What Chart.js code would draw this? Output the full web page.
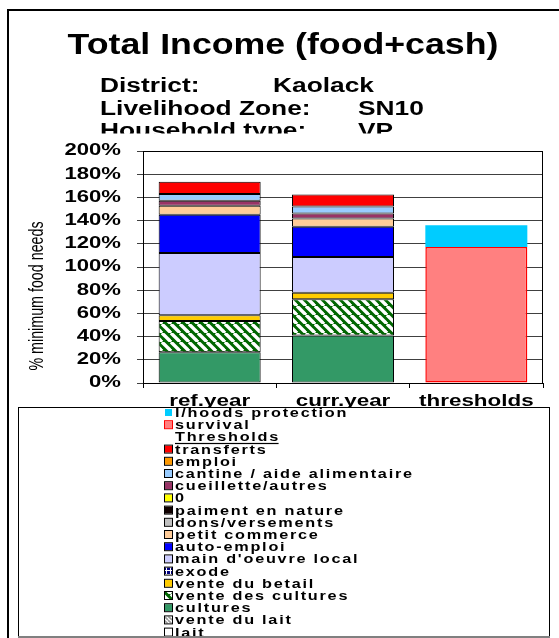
<!DOCTYPE html>
<html>
<head>
<meta charset="utf-8">
<script src="https://cdn.jsdelivr.net/npm/chart.js@4"></script>
<style>
    html, body { margin: 0; padding: 0; background: #fff; }
    canvas { display: block; }
</style>
</head>
<body>
<canvas id="incomeChart" width="559" height="638"></canvas>
<script>
// values in % of minimum food needs
const categories = ['ref.year', 'curr.year', 'thresholds'];
const lait = [0, 0, 0];
const venteDuLait = [0, 0, 0];
const cultures = [26.5, 40.9, 0];
const venteDesCultures = [27.0, 31.4, 0];
const venteDuBetail = [4.9, 5.5, 0];
const exode = [0, 0, 0];
const mainOeuvreLocal = [53.6, 30.8, 0];
const autoEmploi = [33.1, 26.0, 0];
const petitCommerce = [7.8, 7.2, 0];
const donsVersements = [0, 0, 0];
const paimentEnNature = [0, 0, 0];
const zeroSeries = [0, 0, 0];
const cueillette = [4.3, 4.3, 0];
const cantine = [5.8, 6.0, 0];
const emploi = [0, 0, 0];
const transferts = [10.4, 10.4, 0];
const survival = [0, 0, 117.2];
const lhoodsProtection = [0, 0, 18.7];

const yMax = 200;
const yStep = 20;
const infoLabels = ['District:', 'Livelihood Zone:', 'Household type:'];
const infoValues = ['Kaolack', 'SN10', 'VP'];

const FONT = '"Liberation Sans", Arial, sans-serif';

function stripePattern(bg, fg, size, width) {
    const c = document.createElement('canvas');
    c.width = size;
    c.height = size;
    const g = c.getContext('2d');
    g.fillStyle = bg;
    g.fillRect(0, 0, size, size);
    g.strokeStyle = fg;
    g.lineWidth = width;
    for (let k = -1; k <= 1; k++) {
        g.beginPath();
        g.moveTo(k * size, 0);
        g.lineTo(k * size + size, size);
        g.stroke();
    }
    return g.createPattern(c, 'repeat');
}

function crossPattern(bg, fg) {
    const c = document.createElement('canvas');
    c.width = 4;
    c.height = 4;
    const g = c.getContext('2d');
    g.fillStyle = bg;
    g.fillRect(0, 0, 4, 4);
    g.fillStyle = fg;
    g.fillRect(0, 2, 4, 1);
    g.fillRect(2, 0, 1, 4);
    return g.createPattern(c, 'repeat');
}

// stretched text, the picture's fonts are wider than Arial
function drawText(ctx, text, x, y, o) {
    const sx = o.sx || 1;
    ctx.save();
    ctx.font = (o.weight || 'bold') + ' ' + o.size + 'px ' + (o.family || FONT);
    ctx.fillStyle = o.color || '#000';
    ctx.textAlign = o.align || 'left';
    ctx.textBaseline = o.baseline || 'alphabetic';
    ctx.translate(x, y);
    if (o.rotate) {
        ctx.rotate(o.rotate);
    }
    ctx.scale(sx, 1);
    ctx.letterSpacing = ((o.ls || 0) / sx) + 'px';
    ctx.fillText(text, 0, 0);
    const w = ctx.measureText(text).width * sx;
    ctx.restore();
    return w;
}

const series = [
    { label: 'lait', data: lait, color: '#FFFFFF' },
    { label: 'vente du lait', data: venteDuLait, color: stripePattern('#FFFFFF', '#999999', 4, 1.6) },
    { label: 'cultures', data: cultures, color: '#339966' },
    { label: 'vente des cultures', data: venteDesCultures, color: stripePattern('#006600', '#FFFFFF', 9, 3.4) },
    { label: 'vente du betail', data: venteDuBetail, color: '#FFCC00' },
    { label: 'exode', data: exode, color: crossPattern('#000080', '#FFFFFF') },
    { label: "main d'oeuvre local", data: mainOeuvreLocal, color: '#CCCCFF' },
    { label: 'auto-emploi', data: autoEmploi, color: '#0000FF' },
    { label: 'petit commerce', data: petitCommerce, color: '#FFCC99' },
    { label: 'dons/versements', data: donsVersements, color: '#C0C0C0' },
    { label: 'paiment en nature', data: paimentEnNature, color: '#100000' },
    { label: '0', data: zeroSeries, color: '#FFFF00' },
    { label: 'cueillette/autres', data: cueillette, color: '#993366' },
    { label: 'cantine / aide alimentaire', data: cantine, color: '#99CCFF' },
    { label: 'emploi', data: emploi, color: '#FF9900' },
    { label: 'transferts', data: transferts, color: '#FF0000' },
    { label: 'survival', data: survival, color: '#FF8080', border: '#FF0000', width: 1.5 },
    { label: 'l/hoods protection', data: lhoodsProtection, color: '#00CCFF', border: '#00CCFF', width: 0 },
];

const decorPlugin = {
    id: 'decor',
    afterDraw(chart) {
        const ctx = chart.ctx;
        const area = chart.chartArea;

        // outer frame
        ctx.save();
        ctx.strokeStyle = '#000';
        ctx.lineWidth = 2;
        ctx.beginPath();
        ctx.moveTo(8, 638);
        ctx.lineTo(8, 10);
        ctx.lineTo(559, 10);
        ctx.stroke();

        // plot border
        ctx.lineWidth = 1;
        ctx.strokeRect(area.left + 0.5, area.top + 0.5, area.right - area.left - 1, area.bottom - area.top);
        ctx.restore();

        drawText(ctx, 'Total Income (food+cash)', 283, 54, { size: 30, sx: 1.19, align: 'center' });

        ctx.save();
        ctx.beginPath();
        ctx.rect(0, 0, 559, 133.5);
        ctx.clip();
        const infoY = [92, 114.5, 136.5];
        const valueX = [273, 358, 358];
        infoLabels.forEach((t, i) => {
            drawText(ctx, t, 100, infoY[i], { size: 19.5, sx: 1.35 });
            drawText(ctx, infoValues[i], valueX[i], infoY[i], { size: 19.5, sx: 1.35 });
        });
        ctx.restore();

        // y tick labels
        const yScale = chart.scales.y;
        yScale.ticks.forEach((tick) => {
            drawText(ctx, tick.value + '%', 121, yScale.getPixelForValue(tick.value), {
                size: 16, sx: 1.38, align: 'right', baseline: 'middle',
            });
        });

        // y axis title
        drawText(ctx, '% minimum food needs', 43, 296, {
            size: 21, weight: 'normal', sx: 0.68, align: 'center', rotate: -Math.PI / 2,
        });

        // x tick labels
        const xScale = chart.scales.x;
        categories.forEach((c, i) => {
            drawText(ctx, c, xScale.getPixelForValue(i), 405.5, { size: 16, sx: 1.4, align: 'center' });
        });

        // legend box
        const box = { x: 18, y: 407, w: 531, h: 229 };
        ctx.save();
        ctx.fillStyle = '#fff';
        ctx.fillRect(box.x, box.y, box.w, box.h);
        ctx.strokeStyle = '#000';
        ctx.lineWidth = 1;
        ctx.strokeRect(box.x + 0.5, box.y + 0.5, box.w, box.h);
        ctx.strokeStyle = '#808080';
        ctx.lineWidth = 2;
        ctx.beginPath();
        ctx.moveTo(box.x, box.y + box.h + 1);
        ctx.lineTo(box.x + box.w + 1, box.y + box.h + 1);
        ctx.stroke();

        ctx.beginPath();
        ctx.rect(box.x + 1, box.y + 1, box.w - 1, box.h - 1);
        ctx.clip();
        const pitch = 12.2;
        let row = 0;
        const items = chart.data.datasets.slice().reverse();
        items.forEach((ds) => {
            const base = 417 + row * pitch;
            ctx.fillStyle = ds.backgroundColor;
            ctx.fillRect(165, base - 8, 7, 7);
            if (ds.label !== 'l/hoods protection') {
                ctx.strokeStyle = ds.label === 'survival' ? '#FF0000' : '#000';
                ctx.lineWidth = 1;
                ctx.strokeRect(164.5, base - 8.5, 8, 8);
            }
            drawText(ctx, ds.label, 175, base, { size: 12.5, sx: 1.3, ls: 1.75 });
            row++;
            if (ds.label === 'survival') {
                const hb = 417 + row * pitch;
                const w = drawText(ctx, 'Thresholds', 175, hb, { size: 12.5, sx: 1.3, ls: 1.75 });
                ctx.fillStyle = '#000';
                ctx.fillRect(175, hb + 1.5, w - 1.5, 1.2);
                row++;
            }
        });
        ctx.restore();
    },
};

new Chart(document.getElementById('incomeChart'), {
    type: 'bar',
    data: {
        labels: categories,
        datasets: series.map((s) => ({
            label: s.label,
            data: s.data,
            backgroundColor: s.color,
            borderColor: s.border || '#000000',
            borderWidth: s.width === undefined ? 1 : s.width,
            borderSkipped: false,
            categoryPercentage: 1,
            barPercentage: 0.765,
        })),
    },
    options: {
        responsive: false,
        animation: false,
        devicePixelRatio: 1,
        layout: {
            padding: { left: 0, top: 151, right: 16, bottom: 235 },
        },
        plugins: {
            legend: { display: false },
            title: { display: false },
            tooltip: { enabled: false },
        },
        scales: {
            x: {
                stacked: true,
                afterFit(scale) { scale.height = 20; },
                ticks: { display: false },
                grid: {
                    offset: true,
                    drawOnChartArea: false,
                    drawTicks: true,
                    tickLength: 5,
                    color: '#000',
                },
                border: { display: true, color: '#000', width: 1 },
            },
            y: {
                stacked: true,
                min: 0,
                max: yMax,
                afterFit(scale) { scale.width = 143; },
                ticks: { display: false, stepSize: yStep },
                grid: {
                    color: '#404040',
                    lineWidth: 1,
                    drawTicks: true,
                    tickLength: 6,
                },
                border: { display: true, color: '#000', width: 1 },
            },
        },
    },
    plugins: [decorPlugin],
});
</script>
</body>
</html>
